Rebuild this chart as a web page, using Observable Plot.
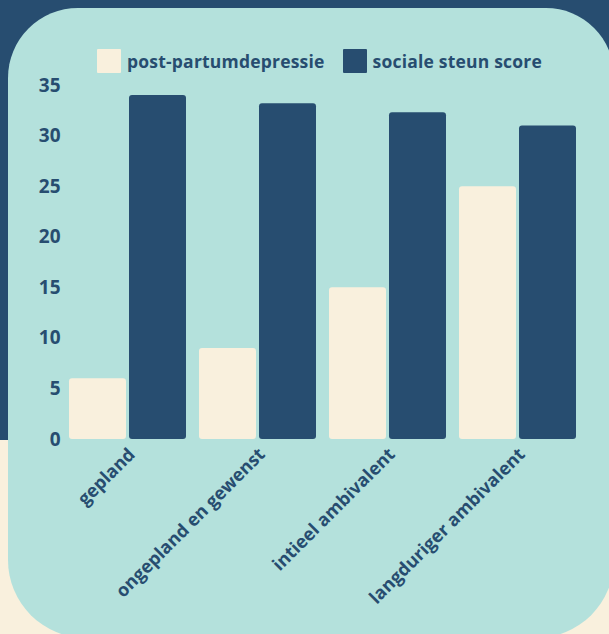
<!DOCTYPE html>
<html>
<head>
<meta charset="utf-8">
<script src="https://cdn.jsdelivr.net/npm/d3@7"></script>
<script src="https://cdn.jsdelivr.net/npm/@observablehq/plot@0.6"></script>
<style>
  html, body { margin: 0; padding: 0; }
  body {
    width: 609px; height: 634px; overflow: hidden; position: relative;
    background: linear-gradient(to bottom, #274d70 0px, #274d70 440px, #f9f0dd 440px, #f9f0dd 634px);
    font-family: "Open Sans", sans-serif;
  }
  #panel {
    position: absolute; left: 8px; top: 8px; width: 606px; height: 630px;
    background: #b4e1dc; border-radius: 70px 68px 78px 78px;
  }
  #legend {
    position: absolute; left: 97px; top: 49px; height: 24px;
    display: flex; align-items: center; white-space: nowrap;
    color: #274d70; font-weight: 700; font-size: 17.5px; letter-spacing: 0.2px;
  }
  #legend .sw { width: 24px; height: 24px; display: inline-block; border-radius: 1px; }
  #legend .lab { margin-left: 6px; margin-right: 18px; }
  #chart { position: absolute; left: 0; top: 76px; }
</style>
</head>
<body>
<div id="panel"></div>
<div id="legend"></div>
<div id="chart"></div>
<script>
const categories = ["gepland", "ongepland en gewenst", "intieel ambivalent", "langduriger ambivalent"];
const seriesNames = ["post-partumdepressie", "sociale steun score"];
const depressie = [6, 9, 15, 25];
const steun = [34, 33.2, 32.3, 31];
const yTicks = [0, 5, 10, 15, 20, 25, 30, 35];
const seriesColors = ["#f9f0dd", "#274d70"];

const data = categories.flatMap((c, i) => [
  {category: c, series: seriesNames[0], value: depressie[i]},
  {category: c, series: seriesNames[1], value: steun[i]}
]);

// legend
const legend = document.getElementById("legend");
seriesNames.forEach((s, i) => {
  const sw = document.createElement("span");
  sw.className = "sw"; sw.style.background = seriesColors[i];
  const lab = document.createElement("span");
  lab.className = "lab"; lab.textContent = s;
  legend.appendChild(sw); legend.appendChild(lab);
});

const chart = Plot.plot({
  width: 609,
  height: 558,
  marginTop: 9,
  marginBottom: 195,
  marginLeft: 62,
  marginRight: 27,
  style: {background: "transparent", color: "#274d70", fontFamily: "Open Sans, sans-serif", fontWeight: 700, overflow: "visible"},
  fx: {domain: categories, paddingInner: 0.1, paddingOuter: 0.05, label: null},
  x: {domain: seriesNames, paddingInner: 0.055, paddingOuter: 0, axis: null},
  y: {domain: [0, 35], ticks: yTicks, label: null},
  color: {domain: seriesNames, range: seriesColors},
  marks: [
    Plot.barY(data, {fx: "category", x: "series", y: "value", fill: "series", rx: 3}),
    Plot.axisY({ticks: yTicks, tickSize: 0, tickPadding: 9, fontSize: 19, fill: "#274d70", label: null}),
    Plot.axisFx({anchor: "bottom", tickRotate: -45, tickSize: 0, tickPadding: 12, dx: 4, fontSize: 18, fill: "#274d70", label: null})
  ]
});
document.getElementById("chart").appendChild(chart);
</script>
</body>
</html>
